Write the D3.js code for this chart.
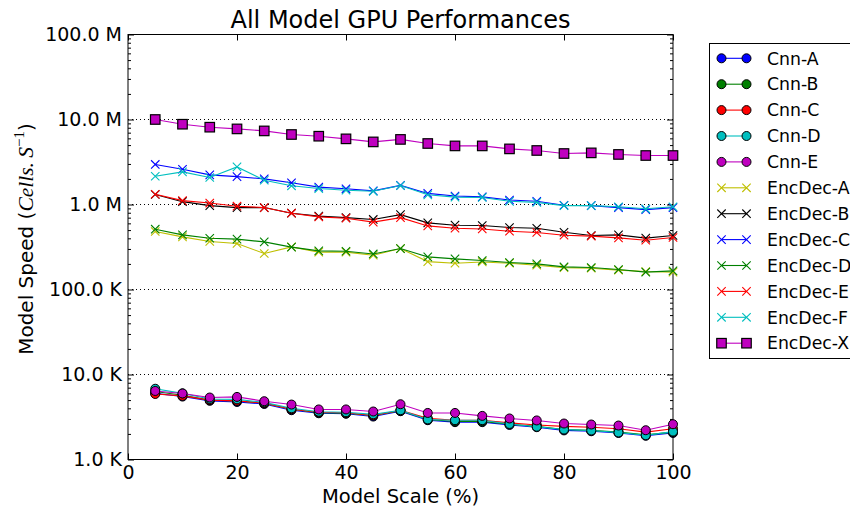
<!DOCTYPE html>
<html>
<head>
<meta charset="utf-8">
<script src="https://cdn.jsdelivr.net/npm/d3@7"></script>
<style>
  html, body { margin: 0; padding: 0; background: #ffffff; }
  svg { display: block; }
  text { font-family: "DejaVu Sans", sans-serif; fill: #000; }
</style>
</head>
<body>
<svg id="chart" width="850" height="512"></svg>
<script>
// Model scale (%) at which every model was benchmarked
const scales = [5, 10, 15, 20, 25, 30, 35, 40, 45, 50, 55, 60, 65, 70, 75, 80, 85, 90, 95, 100];

// Throughput in cells per second
const cnnA = [6000, 5500, 4900, 4750, 4500, 3800, 3500, 3450, 3200, 3700, 2900, 2750, 2750, 2550, 2400, 2200, 2150, 2050, 1900, 2050];
const cnnB = [6300, 5700, 5000, 4900, 4600, 3900, 3550, 3500, 3300, 3750, 2950, 2800, 2800, 2600, 2450, 2250, 2200, 2100, 1950, 2100];
const cnnC = [5900, 5600, 5000, 4900, 4600, 3900, 3600, 3550, 3300, 3800, 3050, 2900, 2900, 2700, 2550, 2450, 2400, 2300, 2100, 2300];
const cnnD = [6800, 6000, 5150, 5100, 4700, 4000, 3650, 3600, 3400, 3800, 2960, 2900, 2900, 2620, 2430, 2250, 2190, 2080, 1930, 2130];
const cnnE = [6400, 5980, 5360, 5450, 4850, 4430, 3880, 3880, 3670, 4470, 3530, 3530, 3260, 3040, 2880, 2650, 2580, 2510, 2210, 2600];
const encDecA = [481000, 416000, 367000, 348000, 265000, 317000, 275000, 275000, 253000, 303000, 213000, 204000, 211000, 204000, 193000, 181000, 178000, 169000, 163000, 160000];
const encDecB = [1310000, 1080000, 970000, 920000, 920000, 790000, 730000, 700000, 667000, 760000, 608000, 571000, 566000, 536000, 526000, 472000, 432000, 439000, 402000, 432000];
const encDecC = [2960000, 2600000, 2230000, 2130000, 2000000, 1800000, 1600000, 1530000, 1445000, 1680000, 1350000, 1260000, 1230000, 1130000, 1090000, 980000, 970000, 920000, 870000, 920000];
const encDecD = [512000, 439000, 401000, 391000, 363000, 315000, 285000, 282000, 262000, 303000, 242000, 229000, 219000, 208000, 200000, 184500, 181500, 172000, 160000, 165500];
const encDecE = [1320000, 1110000, 1040000, 955000, 920000, 790000, 715000, 690000, 620000, 700000, 560000, 526000, 516000, 485000, 468000, 435000, 424000, 405000, 380000, 409000];
const encDecF = [2150000, 2420000, 2080000, 2770000, 1930000, 1660000, 1540000, 1470000, 1430000, 1670000, 1300000, 1220000, 1210000, 1090000, 1060000, 970000, 970000, 940000, 890000, 940000];
const encDecX = [10000000, 8800000, 8120000, 7750000, 7340000, 6660000, 6360000, 5920000, 5450000, 5830000, 5220000, 4890000, 4890000, 4510000, 4320000, 3980000, 4050000, 3880000, 3770000, 3770000];

const seriesNames = ["Cnn-A", "Cnn-B", "Cnn-C", "Cnn-D", "Cnn-E", "EncDec-A", "EncDec-B", "EncDec-C", "EncDec-D", "EncDec-E", "EncDec-F", "EncDec-X"];
const seriesValues = [cnnA, cnnB, cnnC, cnnD, cnnE, encDecA, encDecB, encDecC, encDecD, encDecE, encDecF, encDecX];
const seriesColors = ["#0000ff", "#008000", "#ff0000", "#00bfbf", "#bf00bf", "#bfbf00", "#000000", "#0000ff", "#008000", "#ff0000", "#00bfbf", "#bf00bf"];
const seriesMarkers = ["circle", "circle", "circle", "circle", "circle", "x", "x", "x", "x", "x", "x", "square"];

// Axis ticks
const xTicks = [0, 20, 40, 60, 80, 100];
const yTicks = [1000, 10000, 100000, 1000000, 10000000, 100000000];
const yTickLabels = ["1.0 K", "10.0 K", "100.0 K", "1.0 M", "10.0 M", "100.0 M"];

const svg = d3.select("#chart");
const plotLeft = 128, plotRight = 673, plotTop = 34.5, plotBottom = 459.5;

const x = d3.scaleLinear().domain([0, 100]).range([plotLeft, plotRight]);
const y = d3.scaleLog().domain([1000, 100000000]).range([plotBottom, plotTop]);

// minor ticks: 2..9 within each decade
const yMinor = [];
for (let d = 1000; d < 100000000; d *= 10) {
  for (let k = 2; k <= 9; k++) yMinor.push(d * k);
}

// horizontal dotted grid at each decade
svg.append("g")
  .selectAll("line")
  .data(yTicks.slice(1, -1))
  .join("line")
  .attr("x1", plotLeft).attr("x2", plotRight)
  .attr("y1", d => y(d)).attr("y2", d => y(d))
  .attr("stroke", "#000").attr("stroke-width", 1)
  .attr("stroke-dasharray", "1,3");

function styleAxis(g) {
  g.select(".domain").remove();
  g.selectAll(".tick line").attr("stroke", "#000").attr("stroke-width", 1);
  g.selectAll(".tick text").attr("font-size", "19px").attr("font-family", "DejaVu Sans").attr("fill", "#000");
}

const labelMap = new Map(yTicks.map((v, i) => [v, yTickLabels[i]]));

// left axis with labels
svg.append("g")
  .attr("transform", `translate(${plotLeft},0)`)
  .call(d3.axisLeft(y).tickValues(yTicks).tickFormat(d => labelMap.get(d)).tickSize(-6).tickSizeOuter(0).tickPadding(6))
  .call(styleAxis);
svg.append("g")
  .attr("transform", `translate(${plotLeft},0)`)
  .call(d3.axisLeft(y).tickValues(yMinor).tickFormat("").tickSize(-3).tickSizeOuter(0))
  .call(styleAxis);
// right axis ticks
svg.append("g")
  .attr("transform", `translate(${plotRight},0)`)
  .call(d3.axisRight(y).tickValues(yTicks).tickFormat("").tickSize(-6).tickSizeOuter(0))
  .call(styleAxis);
svg.append("g")
  .attr("transform", `translate(${plotRight},0)`)
  .call(d3.axisRight(y).tickValues(yMinor).tickFormat("").tickSize(-3).tickSizeOuter(0))
  .call(styleAxis);
// bottom axis with labels
svg.append("g")
  .attr("transform", `translate(0,${plotBottom})`)
  .call(d3.axisBottom(x).tickValues(xTicks).tickFormat(d3.format("d")).tickSize(-6).tickSizeOuter(0).tickPadding(6))
  .call(styleAxis);
// top axis ticks
svg.append("g")
  .attr("transform", `translate(0,${plotTop})`)
  .call(d3.axisTop(x).tickValues(xTicks).tickFormat("").tickSize(-6).tickSizeOuter(0))
  .call(styleAxis);

// plot frame
svg.append("rect")
  .attr("x", plotLeft).attr("y", plotTop)
  .attr("width", plotRight - plotLeft).attr("height", plotBottom - plotTop)
  .attr("fill", "none").attr("stroke", "#000").attr("stroke-width", 1);

function drawMarker(g, kind, color, cx, cy) {
  if (kind === "circle") {
    g.append("circle").attr("cx", cx).attr("cy", cy).attr("r", 4.5)
      .attr("fill", color).attr("stroke", "#000").attr("stroke-width", 1);
  } else if (kind === "square") {
    g.append("rect").attr("x", cx - 4.75).attr("y", cy - 4.75).attr("width", 9.5).attr("height", 9.5)
      .attr("fill", color).attr("stroke", "#000").attr("stroke-width", 1.2);
  } else {
    const s = 4.2;
    g.append("path")
      .attr("d", `M${cx - s},${cy - s}L${cx + s},${cy + s}M${cx - s},${cy + s}L${cx + s},${cy - s}`)
      .attr("stroke", color).attr("stroke-width", 1.1).attr("fill", "none");
  }
}

const line = d3.line().x(d => x(d[0])).y(d => y(d[1]));
const plot = svg.append("g");

seriesValues.forEach((vals, i) => {
  const pts = scales.map((s, j) => [s, vals[j]]);
  const g = plot.append("g");
  g.append("path").attr("d", line(pts))
    .attr("fill", "none").attr("stroke", seriesColors[i]).attr("stroke-width", 1.1);
  pts.forEach(p => drawMarker(g, seriesMarkers[i], seriesColors[i], x(p[0]), y(p[1])));
});

// title
svg.append("text")
  .attr("x", (plotLeft + plotRight) / 2).attr("y", 28)
  .attr("text-anchor", "middle").attr("font-size", "24px")
  .text("All Model GPU Performances");

// x axis label
svg.append("text")
  .attr("x", (plotLeft + plotRight) / 2).attr("y", 503)
  .attr("text-anchor", "middle").attr("font-size", "19.5px")
  .text("Model Scale (%)");

// y axis label with math-style unit
const yl = svg.append("text")
  .attr("transform", `translate(33,239) rotate(-90)`)
  .attr("text-anchor", "middle").attr("font-size", "20px");
yl.append("tspan").text("Model Speed (");
yl.append("tspan").attr("font-family", "Liberation Serif").attr("font-style", "italic").attr("font-size", "21.5px").text("Cells.\u2009S");
yl.append("tspan").attr("font-family", "Liberation Serif").attr("font-size", "15px").attr("dy", "-9").text("\u22121");
yl.append("tspan").attr("dy", "9").text(")");

// legend
const legX = 709, legY = 43, rowH = 25.9;
const leg = svg.append("g");
leg.append("rect")
  .attr("x", legX + 0.5).attr("y", legY + 0.5)
  .attr("width", 160).attr("height", 315)
  .attr("fill", "#fff").attr("stroke", "#000").attr("stroke-width", 1);
seriesNames.forEach((name, i) => {
  const cy = legY + 15.3 + i * rowH;
  const g = leg.append("g");
  g.append("line").attr("x1", 721.5).attr("x2", 746.5).attr("y1", cy).attr("y2", cy)
    .attr("stroke", seriesColors[i]).attr("stroke-width", 1.1);
  drawMarker(g, seriesMarkers[i], seriesColors[i], 721.5, cy);
  drawMarker(g, seriesMarkers[i], seriesColors[i], 746.5, cy);
  g.append("text").attr("x", 767).attr("y", cy).attr("dy", "0.36em")
    .attr("font-size", "17.3px").text(name);
});
</script>
</body>
</html>
